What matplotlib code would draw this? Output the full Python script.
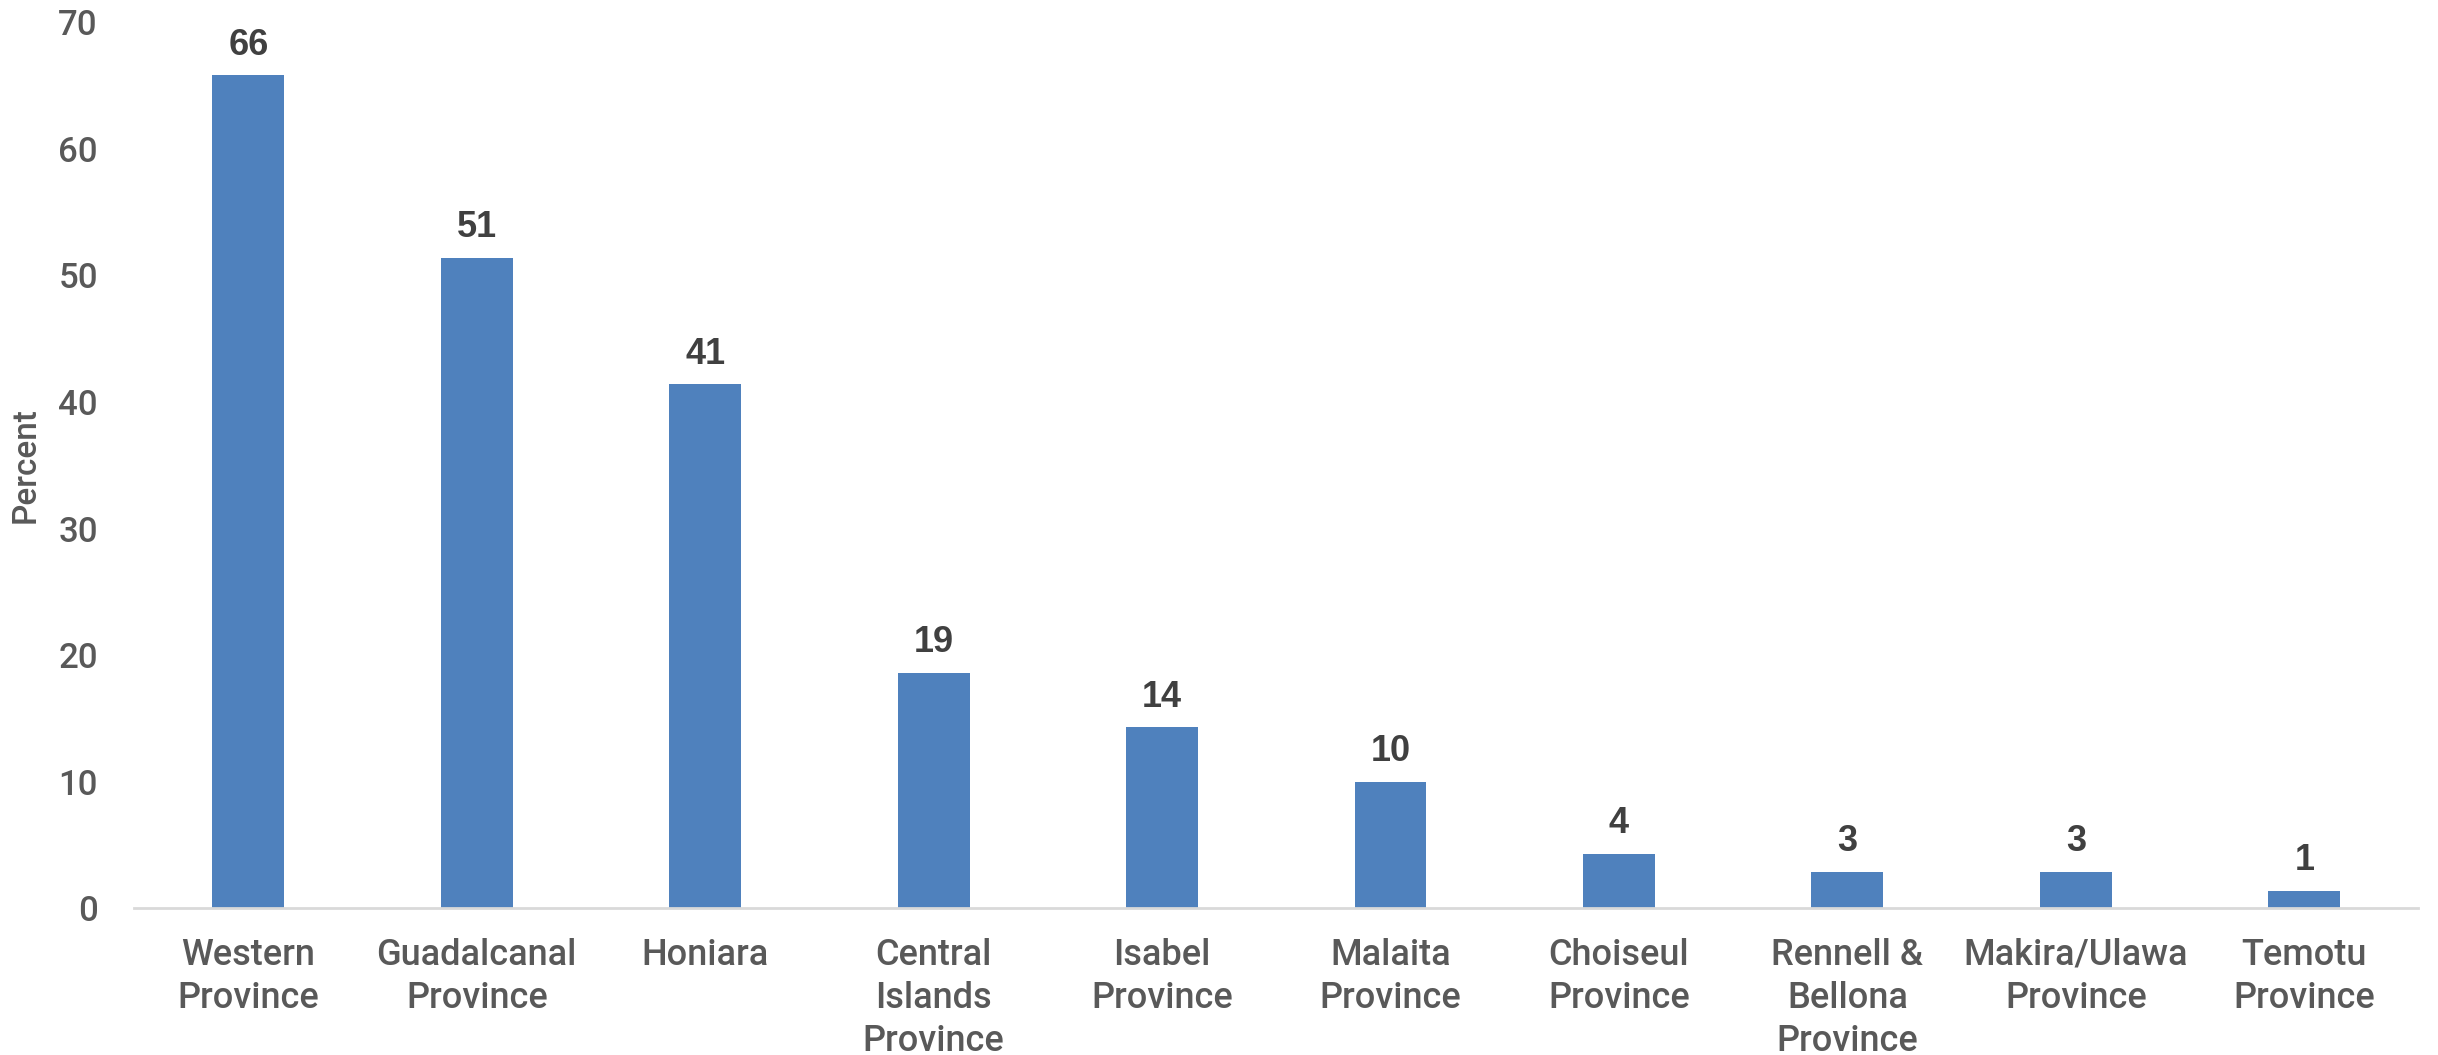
import numpy as np
import matplotlib
matplotlib.use("Agg")
import matplotlib.pyplot as plt

# provinces and share (percent)
provinces = ["Western\nProvince", "Guadalcanal\nProvince", "Honiara",
             "Central\nIslands\nProvince", "Isabel\nProvince", "Malaita\nProvince",
             "Choiseul\nProvince", "Rennell &\nBellona\nProvince",
             "Makira/Ulawa\nProvince", "Temotu\nProvince"]
percent = [65.8, 51.4, 41.4, 18.6, 14.3, 10.0, 4.3, 2.9, 2.9, 1.4]
yticks = [0, 10, 20, 30, 40, 50, 60, 70]

plt.rcParams['font.family'] = ['Roboto', 'Liberation Sans', 'DejaVu Sans']

fig = plt.figure(figsize=(24.38, 10.55), dpi=100)
ax = fig.add_axes([0.055, 0.139, 0.937, 0.840])

x = np.arange(len(provinces))
bars = ax.bar(x, percent, width=0.315, color="#4F81BD", zorder=2)

ax.bar_label(bars, labels=[f"{v:.0f}" for v in percent], padding=9,
             fontsize=26, fontweight="bold", color="#404040",
             family=['Liberation Sans', 'DejaVu Sans'])

ax.set_xlim(-0.5, len(provinces) - 0.5)
ax.set_ylim(0, 70)
ax.set_yticks(yticks)
ax.set_xticks(x)
ax.set_xticklabels(provinces, fontsize=26, color="#595959", fontweight="medium",
                   linespacing=1.3)
ax.tick_params(axis="y", length=0, pad=26, labelsize=25, labelcolor="#595959")
ax.tick_params(axis="x", length=0, pad=21)
for lab in ax.get_yticklabels():
    lab.set_fontweight("medium")

ax.set_ylabel("Percent", fontsize=24, color="#595959", fontweight="medium", labelpad=12)

for side in ["top", "right", "left"]:
    ax.spines[side].set_visible(False)
ax.spines["bottom"].set_color("#D9D9D9")
ax.spines["bottom"].set_linewidth(2)

fig.savefig("out.png", dpi=100)
